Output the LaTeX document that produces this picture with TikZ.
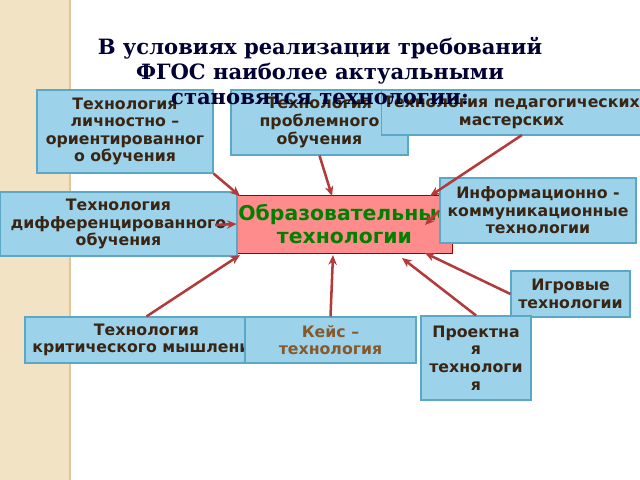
\documentclass[tikz,border=0pt]{standalone}
\usepackage{fontspec}
\setmainfont{DejaVu Sans}
\newfontfamily\titlefont{DejaVu Serif}
\definecolor{boxblue}{HTML}{9DD3EA}
\definecolor{boxline}{HTML}{5BA7C6}
\definecolor{txtbrown}{HTML}{3A2412}
\definecolor{arrowred}{HTML}{B33A3A}
\definecolor{strip}{HTML}{F2E3C4}
\tikzset{
  tech/.style={draw=boxline,fill=boxblue,thick,align=center,text=txtbrown,
    font=\fontsize{11.2}{12.5}\selectfont\bfseries,inner sep=1pt},
  link/.style={-{Stealth[length=7pt,width=6pt]},arrowred,line width=1.8pt}
}
\usetikzlibrary{arrows.meta}
\begin{document}
\begin{tikzpicture}[x=0.025cm,y=-0.025cm]
\useasboundingbox (0,0) rectangle (640,480);
\fill[strip] (0,0) rectangle (70,480);
\draw[strip!70!brown,thick] (70,0) -- (70,480);
\node[draw=red!60!black,fill=red!45!white,minimum width=215*0.025cm,minimum height=58*0.025cm,inner xsep=0pt,
  font=\fontsize{14.5}{16.5}\selectfont\bfseries,text=green!50!black,align=center] (core) at (344.5,224)
  {Образовательные\\технологии};
\node[tech,minimum width=176*0.025cm,minimum height=83*0.025cm] (lich) at (125,131.5) {Технология\\личностно –\\ориентированног\\о обучения};
\node[tech,minimum width=177*0.025cm,minimum height=65*0.025cm] (prob) at (319.5,122.5) {Технология\\проблемного\\обучения};
\node[tech,minimum width=257*0.025cm,minimum height=45*0.025cm] (ped) at (511.5,112.5) {Технология педагогических\\мастерских};
\node[tech,minimum width=196*0.025cm,minimum height=65*0.025cm] (info) at (538,210.5) {Информационно -\\коммуникационные\\технологии};
\node[tech,minimum width=237*0.025cm,minimum height=64*0.025cm] (diff) at (118.5,224) {Технология\\дифференцированного\\обучения};
\node[tech,minimum width=119*0.025cm,minimum height=46*0.025cm] (igr) at (570.5,294) {Игровые\\технологии};
\node[tech,minimum width=243*0.025cm,minimum height=46*0.025cm] (krit) at (146.5,340) {Технология\\критического мышления};
\node[tech,minimum width=171*0.025cm,minimum height=46*0.025cm,text=brown!70!black] (keis) at (330.5,340) {Кейс –\\технология};
\node[tech,minimum width=110*0.025cm,minimum height=84*0.025cm] (proj) at (476,358) {Проектна\\я\\технологи\\я};
\node[font=\titlefont\fontsize{15}{17.5}\selectfont\bfseries,text=blue!20!black,align=center] (title) at (320,71)
  {В условиях реализации требований\\ФГОС наиболее актуальными\\становятся технологии:};
\draw[link] (lich.south east) -- (240,196);
\draw[link] (prob.south) -- (332,196);
\draw[link] (522,135) -- (430,196);
\draw[link] (info.west) -- (425,225);
\draw[link] (215,225) -- (core.west);
\draw[link] (igr.west) -- (425,253);
\draw[link] (krit.north) -- (240,255);
\draw[link] (keis.north) -- (333,255);
\draw[link] (proj.north) -- (402,258);
\end{tikzpicture}
\end{document}
